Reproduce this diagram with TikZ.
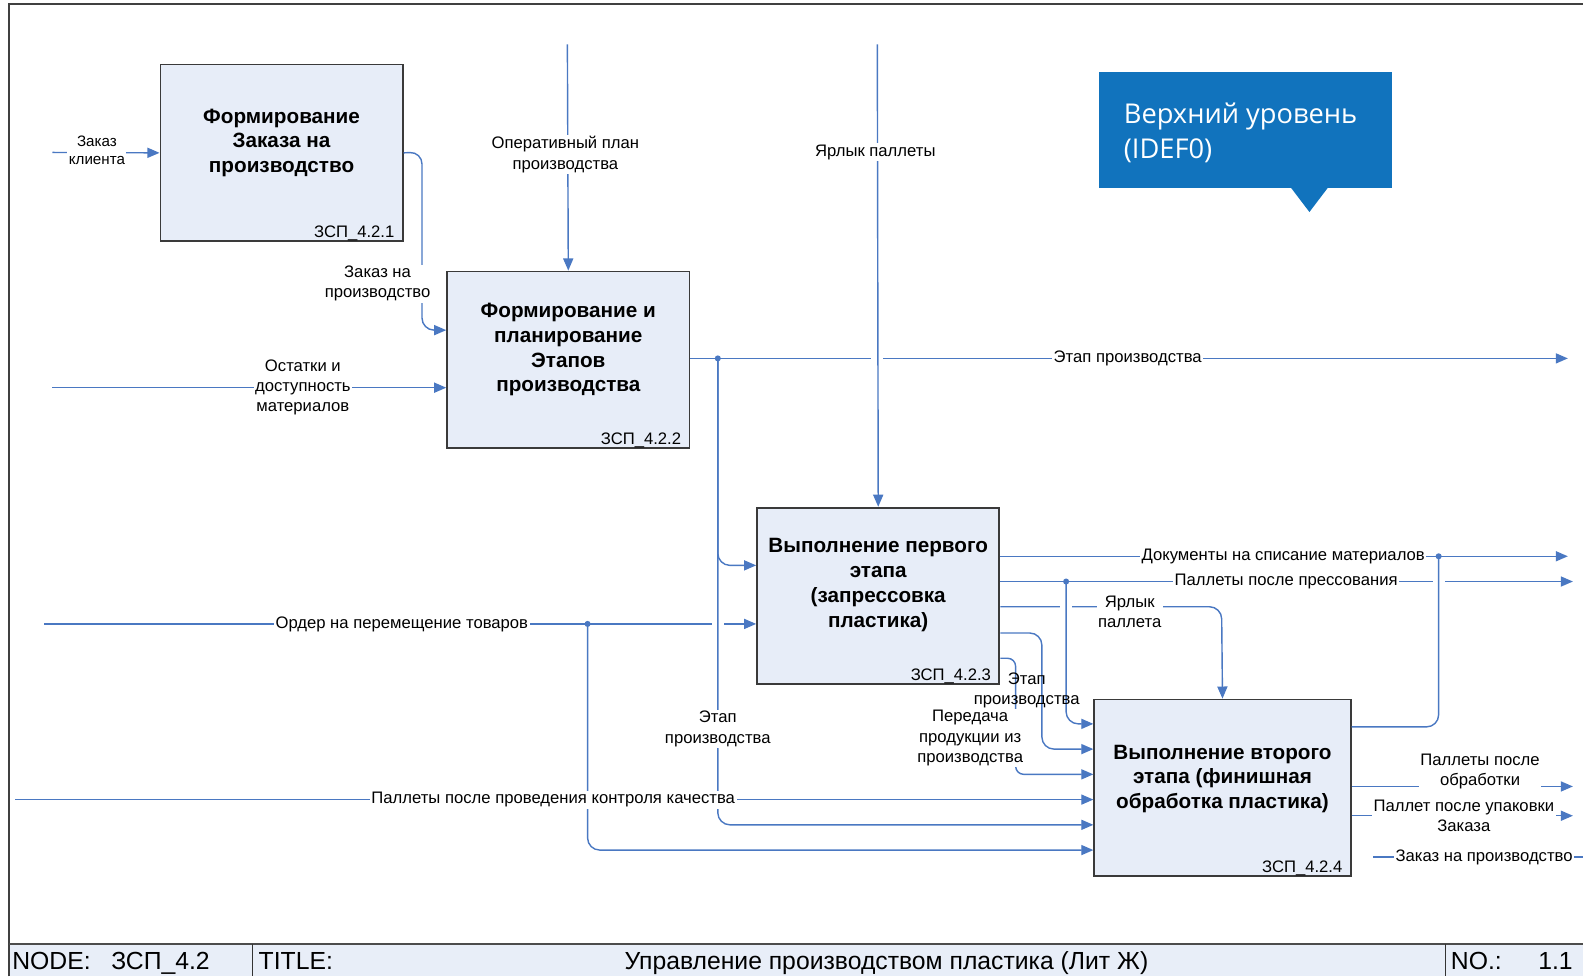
\documentclass[tikz,border=0pt]{standalone}
\usepackage{fontspec}
\setmainfont{Liberation Sans}
\newfontfamily\calloutfont{Open Sans}
\usetikzlibrary{arrows.meta,calc}
\definecolor{flow}{HTML}{4A78C2}
\definecolor{boxfill}{HTML}{E7EDF8}
\definecolor{boxline}{HTML}{3A3A3A}
\definecolor{callout}{HTML}{1173BD}
\definecolor{footfill}{HTML}{E8EEF8}
\begin{document}
\begin{tikzpicture}[x=1pt,y=-1pt,
  func/.style={draw=boxline,line width=1.8pt,fill=boxfill,minimum width=240pt,minimum height=175pt,anchor=north west,inner sep=0pt},
  ftitle/.style={font=\fontsize{20.5}{24.5}\selectfont\bfseries,align=center},
  fref/.style={font=\fontsize{16.5}{18}\selectfont,anchor=base east,inner sep=0pt},
  flowline/.style={draw=flow,line width=1.4pt,rounded corners=12pt},
  arr/.style={flowline,-{Triangle[length=12pt,width=10pt]}},
  lab/.style={font=\fontsize{16.5}{20}\selectfont,fill=white,inner sep=1.5pt,align=center},
  nlab/.style={font=\fontsize{16.5}{20}\selectfont,inner sep=1.5pt,align=center},
  jdot/.style={circle,fill=flow,inner sep=0pt,minimum size=6pt},
  foot/.style={font=\fontsize{24.5}{28}\selectfont,inner sep=0pt}
]
\useasboundingbox (0,0) rectangle (1568,967);
% frame and footer
\fill[footfill] (9,935) rectangle (1568,967);
\draw[line width=2pt,draw=black!75] (9,967) -- (9,4) -- (1568,4);
\draw[line width=2pt,draw=black!70] (9,935) -- (1568,935);
\draw[line width=1.2pt,draw=black!80] (250,935) -- (250,967);
\draw[line width=1.2pt,draw=black!80] (1432,935) -- (1432,967);
\node[foot,anchor=base west] (fnode) at (12,960) {NODE:};
\node[foot,anchor=base west] (fnodev) at (110,960) {ЗСП\_4.2};
\node[foot,anchor=base west] (ftitle) at (256,960) {TITLE:};
\node[foot,anchor=base] (ftitlev) at (878,960) {Управление производством пластика (Лит Ж)};
\node[foot,anchor=base west] (fno) at (1437,960) {NO.:};
\node[foot,anchor=base east] (fnov) at (1558,960) {1.1};

% callout
\fill[callout] (1089,71) rectangle (1379,186);
\fill[callout] (1278,185) -- (1316,185) -- (1297,210) -- cycle;
\node[anchor=north west,text=white,font=\calloutfont\fontsize{27}{34}\selectfont,align=left,inner sep=0pt] (callt) at (1113,102) {Верхний уровень\\(IDEF0)};

% function boxes
\node[func] (b1) at (158,63) {};
\node[func] (b2) at (442,268) {};
\node[func] (b3) at (749,502) {};
\node[func,minimum width=254pt] (b4) at (1083,692) {};
\node[ftitle] (b1t) at ($(b1.center)+(0,-10)$) {Формирование\\Заказа на\\производство};
\node[ftitle] (b2t) at ($(b2.center)+(0,-10)$) {Формирование и\\планирование\\Этапов\\производства};
\node[ftitle] (b3t) at ($(b3.center)+(0,-11)$) {Выполнение первого\\этапа\\(запрессовка\\пластика)};
\node[ftitle] (b4t) at ($(b4.center)+(0,-9)$) {Выполнение второго\\этапа (финишная\\обработка пластика)};
\node[fref] (b1r) at ($(b1.south east)+(-9,-5)$) {ЗСП\_4.2.1};
\node[fref] (b2r) at ($(b2.south east)+(-9,-5)$) {ЗСП\_4.2.2};
\node[fref] (b3r) at ($(b3.south east)+(-9,-5)$) {ЗСП\_4.2.3};
\node[fref] (b4r) at ($(b4.south east)+(-9,-5)$) {ЗСП\_4.2.4};

% free ends
\coordinate (in1) at (52,151);
\coordinate (in3) at (52,384);
\coordinate (in4) at (562,44);
\coordinate (in5) at (869,44);
\coordinate (out6) at (1553,355);
\coordinate (in7) at (44,618);
\coordinate (in8) at (15,792);
\coordinate (out9a) at (1553,551);
\coordinate (out9b) at (1558,576);
\coordinate (out10b) at (1558,779);
\coordinate (out10c) at (1558,808);
\coordinate (z1) at (1360,849);
\coordinate (z2) at (1568,849);

% junction dots
\node[jdot] (d1) at (711,355) {};
\node[jdot] (d2) at (582,618) {};
\node[jdot] (d3) at (1425,551) {};
\node[jdot] (d4) at (1056,576) {};

% inputs
\draw[arr] (in1) -- (b1.west);
\draw[arr] (b1.east) -- (418,150.5) -- (418,327) -- ($(b2.north west)+(0,59)$);
\draw[arr] (in3) -- ($(b2.north west)+(0,116)$);
\draw[arr] (in7) -- ($(b3.north west)+(0,116)$);
\draw[arr] (in8) -- ($(b4.north west)+(0,100)$);
\draw[arr] (d2.center) -- (582,842) -- ($(b4.north west)+(0,150)$);

% Этап производства
\draw[arr] ($(b2.north east)+(0,87)$) -- (out6);
\fill[white] (863,350) rectangle (875,360);
\fill[white] (705,613) rectangle (717,623);
\draw[arr] (in4) -- (b2.north);
\draw[arr] (in5) -- (b3.north);
\draw[arr] (d1.center) -- (711,560) -- ($(b3.north west)+(0,58)$);
\draw[arr] (d1.center) -- (711,817) -- ($(b4.north west)+(0,125)$);

% outputs of b3
\draw[arr] ($(b3.north east)+(0,49)$) -- (out9a);
\draw[arr] ($(b3.north east)+(0,74)$) -- (out9b);
\fill[white] (1419,571) rectangle (1431,581);
\draw[flowline] ($(b4.north east)+(0,28)$) -- (1425,720) -- (d3.center);
\draw[arr] ($(b3.north east)+(0,99)$) -- (1210,601) -- (b4.north);
\fill[white] (1050,596) rectangle (1062,606);
\draw[arr] (d4.center) -- (1056,717) -- ($(b4.north west)+(0,25)$);
\draw[arr] ($(b3.north east)+(0,125)$) -- (1032,627) -- (1032,742) -- ($(b4.north west)+(0,50)$);
\draw[arr,rounded corners=8pt] ($(b3.north east)+(0,150)$) -- (1006,652) -- (1006,767) -- ($(b4.north west)+(0,75)$);

% outputs of b4
\draw[arr] ($(b4.north east)+(0,87)$) -- (out10b);
\draw[arr] ($(b4.north east)+(0,116)$) -- (out10c);
\draw[flowline] (z1) -- (z2);

% labels
\node[lab,font=\fontsize{15}{18}\selectfont] (l1) at (96,149) {Заказ\\клиента};
\node[lab] (l2) at (374,281) {Заказ на\\производство};
\node[lab] (l3) at (300,384) {Остатки и\\доступность\\материалов};
\node[lab] (l4) at (560,153) {Оперативный план\\производства};
\node[lab] (l5) at (867,151) {Ярлык паллеты};
\node[lab] (l6) at (1117,355) {Этап производства};
\node[lab] (l7) at (398,618) {Ордер на перемещение товаров};
\node[lab] (l8) at (548,792) {Паллеты после проведения контроля качества};
\node[lab] (l6b) at (711,722) {Этап\\производства};
\node[lab] (l9a) at (1271,551) {Документы на списание материалов};
\node[lab] (l9b) at (1274,576) {Паллеты после прессования};
\node[lab] (l9c) at (1119,606) {Ярлык\\паллета};
\node[nlab] (l9d) at (1017,684) {Этап\\производства};
\node[lab] (l9e) at (961,731) {Передача\\продукции из\\производства};
\node[lab] (l10b) at (1466,764) {Паллеты после\\обработки};
\node[lab] (l10c) at (1450,808) {Паллет после упаковки\\Заказа};
\node[lab] (l10d) at (1470,849) {Заказ на производство};
\end{tikzpicture}
\end{document}
